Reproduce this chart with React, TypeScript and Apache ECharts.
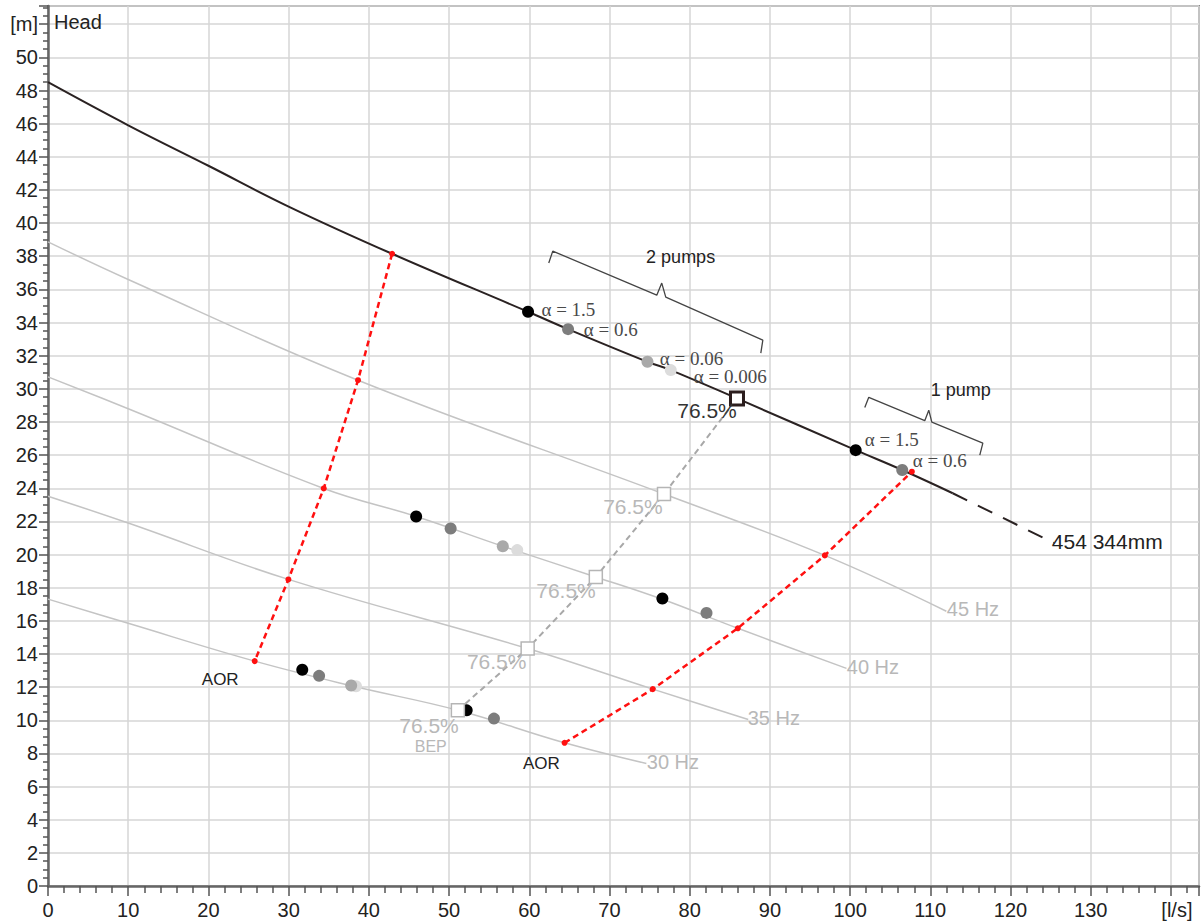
import React, { useEffect, useRef } from "react";
import * as echarts from "echarts";

// ---- Data ----
const fullSpeedCurve = [
  [0, 48.5], [10, 45.9], [20, 43.46], [30, 41.0], [42.9, 38.15], [59.85, 34.65],
  [64.84, 33.6], [74.74, 31.63], [77.64, 31.13], [85.9, 29.42], [100.7, 26.3],
  [106.5, 25.1], [112.8, 23.7],
];
const fullSpeedExtension = [[112.8, 23.7], [125.4, 20.7]];
const curve45 = [[0, 38.87], [10, 36.6], [38.65, 30.52], [76.8, 23.65], [96.85, 19.95], [112.0, 16.58]];
const curve40 = [[0, 30.72], [10, 28.8], [34.38, 23.99], [45.9, 22.3], [56.7, 20.5], [68.3, 18.65], [76.6, 17.3], [86.0, 15.55], [99.55, 13.13]];
const curve35 = [[0, 23.52], [10, 21.9], [29.97, 18.5], [59.8, 14.33], [75.4, 11.88], [87.3, 10.05]];
const curve30 = [[0, 17.31], [10, 15.85], [25.77, 13.57], [38.1, 12.05], [51.1, 10.6], [64.4, 8.64], [74.6, 7.39]];

const aorLeft = [[42.9, 38.15], [38.65, 30.52], [34.38, 23.99], [29.97, 18.5], [25.77, 13.57]];
const aorRight = [[64.4, 8.64], [75.4, 11.88], [86.0, 15.55], [96.85, 19.95], [107.7, 25.0]];
const bepPoints = [[51.1, 10.6], [59.8, 14.33], [68.3, 18.65], [76.8, 23.65], [85.9, 29.42]];

const blackDots = [[59.85, 34.65], [100.7, 26.3], [45.9, 22.3], [76.6, 17.35], [31.7, 13.05], [52.2, 10.6]];
const grayDots = [[64.84, 33.6], [106.5, 25.1], [50.2, 21.57], [82.1, 16.48], [33.8, 12.68], [55.6, 10.1]];
const lightDots = [[74.74, 31.63], [56.7, 20.5], [37.8, 12.1]];
const lighterDots = [[77.64, 31.13], [58.5, 20.27], [38.4, 12.05]];

const bracket2 = [[62.43, 37.59], [62.93, 38.31], [75.9, 35.65], [76.52, 36.38], [77.02, 35.53], [89.12, 32.94], [88.87, 32.16]];
const bracket1 = [[101.83, 28.88], [102.33, 29.49], [109.31, 28.08], [109.81, 28.71], [110.19, 27.99], [116.55, 26.72], [116.17, 26.0]];

const xTicks = { min: 0, max: 143.5, interval: 10, unitAt: 140, unit: "[l/s]" };
const yTicks = { min: 0, max: 53.1, interval: 2, unitAt: 52, unit: "[m]" };

const alphaLabels = [
  { text: "α = 1.5", at: [61.52, 34.81] },
  { text: "α = 0.6", at: [66.8, 33.6] },
  { text: "α = 0.06", at: [76.27, 31.8] },
  { text: "α = 0.006", at: [80.51, 30.75] },
  { text: "α = 1.5", at: [101.83, 26.97] },
  { text: "α = 0.6", at: [107.81, 25.65] },
];
const effLabels = [
  { text: "76.5%", at: [85.87, 28.71], dark: true },
  { text: "76.5%", at: [76.64, 22.88] },
  { text: "76.5%", at: [68.29, 17.85] },
  { text: "76.5%", at: [59.65, 13.52] },
  { text: "76.5%", at: [51.21, 9.7] },
];
const hzLabels = [
  { text: "45 Hz", at: [112.06, 16.7] },
  { text: "40 Hz", at: [99.59, 13.2] },
  { text: "35 Hz", at: [87.24, 10.13] },
  { text: "30 Hz", at: [74.65, 7.47] },
];
const otherLabels = [
  { text: "BEP", at: [47.72, 8.39], size: 16, color: "#b8b8b8", align: "center" },
  { text: "AOR", at: [21.47, 12.46], size: 17, color: "#222", align: "center" },
  { text: "AOR", at: [61.52, 7.39], size: 17, color: "#222", align: "center" },
  { text: "454 344mm", at: [125.15, 20.81], size: 21, color: "#222", align: "left" },
  { text: "2 pumps", at: [78.87, 37.97], size: 18, color: "#222", align: "center" },
  { text: "1 pump", at: [113.8, 29.92], size: 18, color: "#222", align: "center" },
];

const SANS = '"Liberation Sans", Arial, sans-serif';
const SERIF = '"Liberation Serif", "Times New Roman", serif';

export default function App() {
  const ref = useRef<HTMLDivElement>(null);
  useEffect(() => {
    if (!ref.current) return;
    const chart = echarts.init(ref.current, null, { renderer: "svg" });
    const thinGray = { color: "#c4c4c4", width: 1.5 };
    const freqSeries = [curve45, curve40, curve35, curve30].map((d) => ({
      type: "line",
      data: d,
      symbol: "none",
      smooth: 0.4,
      lineStyle: thinGray,
      z: 2,
    }));
    const dotSeries = (data: number[][], color: string) => ({
      type: "scatter",
      data,
      symbol: "circle",
      symbolSize: 12,
      itemStyle: { color, opacity: 1 },
      z: 6,
    });
    const option: any = {
      animation: false,
      backgroundColor: "#fff",
      grid: {
        left: 48, right: 2, top: 6, bottom: 38,
        containLabel: false, outerBoundsMode: "none",
        show: true, borderColor: "#8a8a8a", borderWidth: 2, backgroundColor: "transparent",
      },
      xAxis: {
        type: "value",
        min: xTicks.min, max: xTicks.max, interval: xTicks.interval,
        axisLine: { show: true, onZero: false, lineStyle: { color: "#666", width: 2.5 } },
        axisTick: { show: true, length: 10, lineStyle: { color: "#555", width: 1.5 } },
        minorTick: { show: true, splitNumber: 5, length: 7, lineStyle: { color: "#555", width: 1.5 } },
        splitLine: { show: true, lineStyle: { color: "#d6d6d6", width: 1.5 } },
        axisLabel: {
          color: "#222", fontSize: 20, fontFamily: SANS, margin: 14,
          showMaxLabel: false, hideOverlap: false,
          formatter: (v: number) => (v === xTicks.unitAt ? "{u|" + xTicks.unit + "}" : String(v)),
          rich: { u: { fontSize: 20, fontFamily: SANS, color: "#222", padding: [0, 0, 0, 12] } },
        },
      },
      yAxis: {
        type: "value",
        min: yTicks.min, max: yTicks.max, interval: yTicks.interval,
        axisLine: { show: true, onZero: false, lineStyle: { color: "#666", width: 2.5 } },
        axisTick: { show: true, length: 9, lineStyle: { color: "#555", width: 1.5 } },
        minorTick: { show: true, splitNumber: 4, length: 5, lineStyle: { color: "#555", width: 1.5 } },
        splitLine: { show: true, lineStyle: { color: "#d6d6d6", width: 1.5 } },
        axisLabel: {
          color: "#222", fontSize: 20, fontFamily: SANS, margin: 10, showMaxLabel: false,
          formatter: (v: number) => (v === yTicks.unitAt ? yTicks.unit : String(v)),
        },
      },
      series: [
        ...freqSeries,
        {
          type: "line", data: fullSpeedCurve, symbol: "none", smooth: 0.4,
          lineStyle: { color: "#2a2222", width: 2 }, z: 3,
        },
        {
          type: "line", data: fullSpeedExtension, symbol: "none",
          lineStyle: { color: "#2a2222", width: 2, type: [16, 12] }, z: 3,
        },
        {
          type: "line", data: bracket2, symbol: "none",
          lineStyle: { color: "#444", width: 1.3 }, z: 3,
        },
        {
          type: "line", data: bracket1, symbol: "none",
          lineStyle: { color: "#444", width: 1.3 }, z: 3,
        },
        {
          type: "line", data: aorLeft, symbol: "circle", symbolSize: 6, showAllSymbol: true,
          itemStyle: { color: "#ff1010" },
          lineStyle: { color: "#ff1010", width: 2.5, type: [6, 4] }, z: 4,
        },
        {
          type: "line", data: aorRight, symbol: "circle", symbolSize: 6, showAllSymbol: true,
          itemStyle: { color: "#ff1010" },
          lineStyle: { color: "#ff1010", width: 2.5, type: [6, 4] }, z: 4,
        },
        {
          type: "line", data: bepPoints, symbol: "none",
          lineStyle: { color: "#a8a8a8", width: 2, type: [6, 4] }, z: 4,
        },
        dotSeries(lighterDots, "#dcdcdc"),
        dotSeries(lightDots, "#a9a9a9"),
        dotSeries(grayDots, "#7d7d7d"),
        dotSeries(blackDots, "#000000"),
        {
          type: "scatter",
          data: bepPoints.map((p, i) =>
            i === bepPoints.length - 1
              ? { value: p, symbolSize: 13, itemStyle: { color: "#fff", borderColor: "#2b1d1d", borderWidth: 3 } }
              : { value: p }
          ),
          symbol: "rect",
          symbolSize: 13,
          itemStyle: { color: "#fff", borderColor: "#b5b5b5", borderWidth: 1.5, opacity: 1 },
          z: 7,
        },
      ],
    };
    chart.setOption(option);

    const px = (p: number[]) => chart.convertToPixel({ gridIndex: 0 } as any, p) as number[];
    const txt = (text: string, at: number[], o: any) => {
      const [x, y] = px(at);
      return {
        type: "text", x, y, z: 100, silent: true,
        style: {
          text, fill: o.color, fontSize: o.size, fontFamily: o.family || SANS,
          align: o.align || "left", verticalAlign: "middle",
        },
      };
    };
    const graphic: any[] = [
      {
        type: "text", left: 54, top: 12, z: 100,
        style: { text: "Head", fill: "#222", fontSize: 20, fontFamily: SANS },
      },
      ...alphaLabels.map((l) => txt(l.text, l.at, { color: "#4a4a4a", size: 19, family: SERIF })),
      ...effLabels.map((l) => txt(l.text, l.at, { color: l.dark ? "#333" : "#b8b8b8", size: 21, align: "right" })),
      ...hzLabels.map((l) => txt(l.text, l.at, { color: "#b8b8b8", size: 20 })),
      ...otherLabels.map((l) => txt(l.text, l.at, { color: l.color, size: l.size, align: l.align })),
    ];
    chart.setOption({ graphic });
    return () => chart.dispose();
  }, []);
  return (
    <div
      ref={ref}
      style={{ position: "fixed", left: 0, top: 0, width: 1201, height: 924, background: "#fff" }}
    />
  );
}
